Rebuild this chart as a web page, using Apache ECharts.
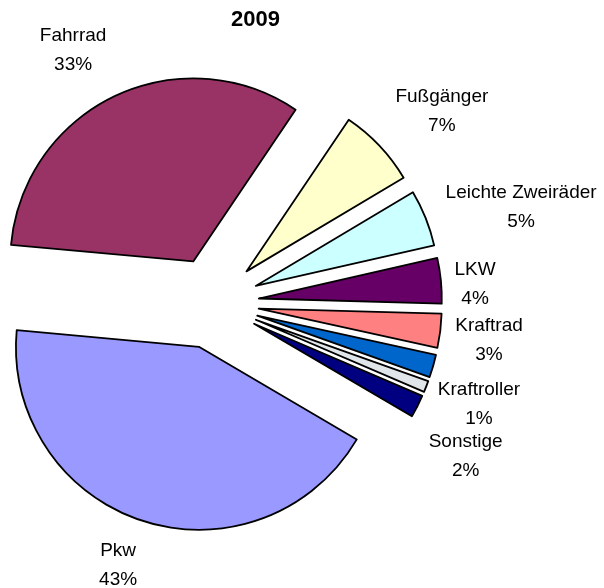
<!DOCTYPE html>
<html>
<head>
<meta charset="utf-8">
<script src="https://cdn.jsdelivr.net/npm/echarts@6/dist/echarts.min.js"></script>
<style>
  html, body { margin: 0; padding: 0; background: #fff; }
  #main { width: 604px; height: 588px; }
</style>
</head>
<body>
<div id="main"></div>
<script>
// Verkehrsbeteiligung 2009, Anteile in %
var names  = ['Fußgänger', 'Leichte Zweiräder', 'LKW', 'Kraftrad', '', 'Kraftroller', 'Sonstige', 'Pkw', 'Fahrrad'];
var shares = [7, 5, 4, 3, 2, 1, 2, 43, 33];
var colors = ['#FFFFCC', '#CCFFFF', '#660066', '#FF8080', '#0066CC', '#DFE5E8', '#000080', '#9999FF', '#993366'];
// label placement (length / length2 of the hidden label line), tuned per slice
var lineLen  = [50.5, 28.4, -34.3, 74.5, 0, 47.7, 110, 46, 51];
var lineLen2 = [-25.7, -11.4, 42.7, -64, 0, -37.8, -91.9, -13.2, -18.5];

var myChart = echarts.init(document.getElementById('main'));

var pieData = [];
for (var i = 0; i < names.length; i++) {
  pieData.push({
    name: names[i],
    value: shares[i],
    selected: true,
    itemStyle: { color: colors[i] },
    label: { show: names[i] !== '' },
    labelLine: { length: lineLen[i], length2: lineLen2[i] }
  });
}

myChart.setOption({
  animation: false,
  title: {
    text: '2009',
    left: 231,
    top: 9,
    padding: 0,
    textStyle: { fontFamily: 'Liberation Sans', fontSize: 22, fontWeight: 'bold', color: '#000' }
  },
  series: [{
    type: 'pie',
    center: [213, 303],
    radius: 183,
    startAngle: 56,
    clockwise: true,
    selectedMode: 'multiple',
    selectedOffset: 46,
    avoidLabelOverlap: false,
    labelLayout: { hideOverlap: false },
    emphasis: { disabled: true },
    itemStyle: { borderColor: '#000', borderWidth: 1.8 },
    label: {
      position: 'outside',
      formatter: function (p) { return '{n|' + p.name + '}\n{n|' + p.value + '%}'; },
      rich: {
        n: { align: 'center', fontFamily: 'Liberation Sans', fontSize: 19, lineHeight: 29, color: '#000' }
      }
    },
    labelLine: { show: false },
    data: pieData
  }]
});
</script>
</body>
</html>
